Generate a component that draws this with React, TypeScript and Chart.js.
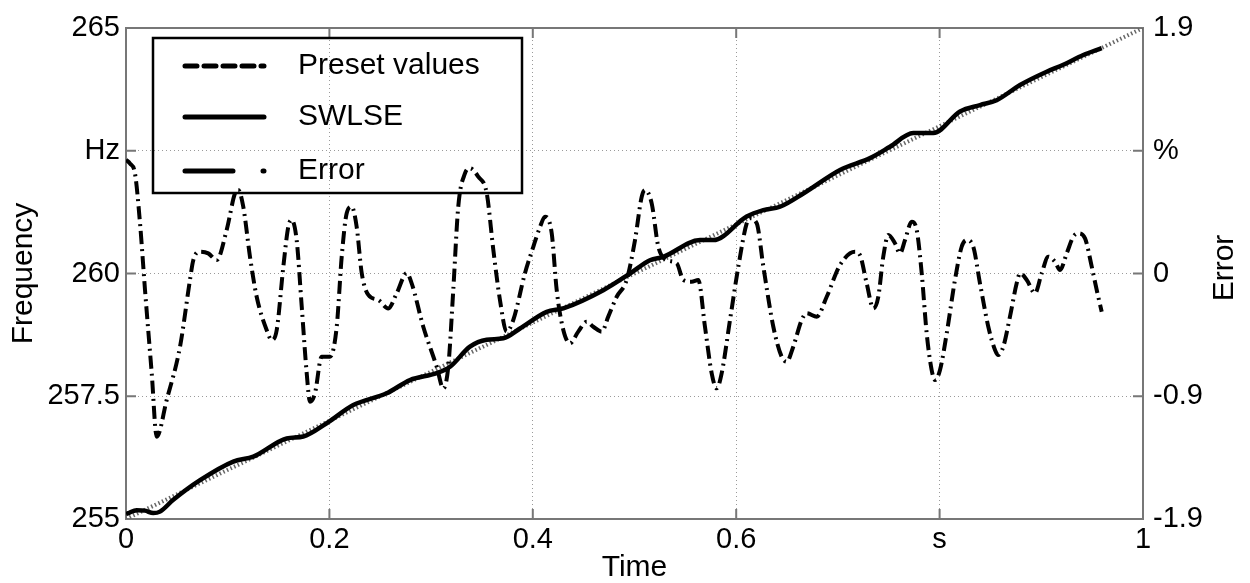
import React, { useEffect, useRef } from "react";
import { Chart, registerables } from "chart.js";

Chart.register(...registerables);

// Axis ticks and their printed labels
const timeTicks = [0, 0.2, 0.4, 0.6, 0.8, 1];
const timeTickLabels = ["0", "0.2", "0.4", "0.6", "s", "1"];
const freqTicks = [255, 257.5, 260, 262.5, 265];
const freqTickLabels = ["255", "257.5", "260", "Hz", "265"];
const errTicks = [-1.9, -0.95, 0, 0.95, 1.9];
const errTickLabels = ["-1.9", "-0.9", "0", "%", "1.9"];

// Preset frequency ramp
const presetTime = [0, 1];
const presetFreq = [255, 265];

// SWLSE frequency estimate
const swlseTime = [
  0.0, 0.0023, 0.0105, 0.0187, 0.0268, 0.0334, 0.0465, 0.0728, 0.1055, 0.1252,
  0.158, 0.1743, 0.1973, 0.2235, 0.2563, 0.2793, 0.3055, 0.3186, 0.3382, 0.3547,
  0.371, 0.3874, 0.4137, 0.43, 0.4693, 0.4956, 0.5152, 0.5283, 0.5644, 0.5775,
  0.6103, 0.6267, 0.6431, 0.666, 0.7021, 0.7316, 0.7512, 0.7741, 0.7938, 0.8201,
  0.8397, 0.8561, 0.8791, 0.9053, 0.9216, 0.9413, 0.9594,
];
const swlseFreq = [
  255.1, 255.12, 255.18, 255.17, 255.12, 255.15, 255.39, 255.79, 256.17, 256.27,
  256.64, 256.68, 256.95, 257.32, 257.56, 257.83, 257.97, 258.1, 258.51, 258.65,
  258.68, 258.88, 259.22, 259.29, 259.66, 260.0, 260.27, 260.34, 260.68, 260.68,
  261.16, 261.29, 261.36, 261.63, 262.11, 262.35, 262.58, 262.86, 262.86, 263.3,
  263.43, 263.53, 263.84, 264.11, 264.25, 264.45, 264.59,
];

// Relative error of the estimate, in percent
const errorTime = [
  0.0, 0.004, 0.0088, 0.0138, 0.0187, 0.0253, 0.0302, 0.04, 0.0531, 0.0629,
  0.0662, 0.0728, 0.0809, 0.0892, 0.099, 0.1072, 0.1104, 0.1153, 0.1219, 0.1285,
  0.1383, 0.1433, 0.1482, 0.1547, 0.1596, 0.1629, 0.1678, 0.1728, 0.1777, 0.1809,
  0.1858, 0.1924, 0.2006, 0.2072, 0.2121, 0.217, 0.2219, 0.2268, 0.2318, 0.2383,
  0.2481, 0.2579, 0.2662, 0.276, 0.2809, 0.2923, 0.3055, 0.312, 0.3169, 0.3218,
  0.3267, 0.3333, 0.3382, 0.3464, 0.3547, 0.3612, 0.3677, 0.3743, 0.3808, 0.3923,
  0.4005, 0.4071, 0.412, 0.4186, 0.4235, 0.43, 0.4366, 0.4447, 0.453, 0.4595,
  0.4678, 0.4742, 0.4825, 0.4923, 0.5005, 0.5071, 0.5103, 0.5169, 0.5234, 0.5317,
  0.5415, 0.548, 0.5562, 0.5627, 0.5693, 0.5759, 0.5808, 0.5857, 0.5939, 0.6021,
  0.6103, 0.6136, 0.6202, 0.6267, 0.6365, 0.6447, 0.6497, 0.6561, 0.6644, 0.6693,
  0.6792, 0.689, 0.7021, 0.7168, 0.7217, 0.7283, 0.7348, 0.7397, 0.7446, 0.7496,
  0.7561, 0.7611, 0.766, 0.7726, 0.7775, 0.7824, 0.7873, 0.7922, 0.7955, 0.8004,
  0.807, 0.8151, 0.8217, 0.8266, 0.8331, 0.8397, 0.8479, 0.8545, 0.8577, 0.8626,
  0.8692, 0.8758, 0.8791, 0.8857, 0.8938, 0.9004, 0.9069, 0.9135, 0.9184, 0.925,
  0.9315, 0.9364, 0.943, 0.9496, 0.9545, 0.9594,
];
const errorPct = [
  0.88, 0.85, 0.775, 0.388, -0.128, -0.773, -1.263, -0.979, -0.567, -0.05,
  0.104, 0.169, 0.156, 0.104, 0.337, 0.621, 0.646, 0.517, 0.13, -0.18,
  -0.437, -0.515, -0.437, 0.053, 0.362, 0.414, 0.259, -0.257, -0.773, -0.992,
  -0.927, -0.644, -0.644, -0.412, 0.13, 0.466, 0.517, 0.362, 0.002, -0.166,
  -0.205, -0.27, -0.153, 0.002, -0.076, -0.412, -0.721, -0.889, -0.721, -0.128,
  0.517, 0.775, 0.814, 0.749, 0.621, 0.182, -0.205, -0.45, -0.36, 0.002,
  0.207, 0.36, 0.439, 0.311, -0.128, -0.437, -0.54, -0.45, -0.373, -0.412,
  -0.45, -0.334, -0.18, -0.05, 0.259, 0.594, 0.646, 0.543, 0.207, 0.104,
  0.079, -0.05, -0.063, -0.05, -0.412, -0.773, -0.889, -0.773, -0.36, 0.053,
  0.388, 0.427, 0.388, 0.053, -0.412, -0.644, -0.683, -0.567, -0.36, -0.308,
  -0.334, -0.18, 0.066, 0.169, 0.143, -0.076, -0.27, -0.18, 0.13, 0.298,
  0.234, 0.156, 0.259, 0.401, 0.337, 0.002, -0.463, -0.747, -0.824, -0.747,
  -0.463, -0.05, 0.207, 0.259, 0.207, -0.076, -0.412, -0.592, -0.631, -0.567,
  -0.334, -0.076, 0.002, -0.05, -0.153, 0.002, 0.13, 0.091, 0.027, 0.156,
  0.285, 0.311, 0.272, 0.053, -0.128, -0.296,
];

const FONT = "'Liberation Sans', Arial, Helvetica, sans-serif";
const FRAME = "#777777";

const zip = (xs: number[], ys: number[]) => xs.map((x, i) => ({ x, y: ys[i] }));

// Legend rows: line sample style and caption
const legendRows = [
  { label: "Preset values", dash: [12, 7] },
  { label: "SWLSE", dash: [] as number[] },
  { label: "Error", dash: [48, 30, 1, 40] },
];

const framePlugin = {
  id: "matlabFrame",
  beforeDatasetsDraw(chart: any) {
    const { ctx, chartArea } = chart;
    const { left, right, top, bottom } = chartArea;
    const xs = chart.scales.x;
    const ys = chart.scales.y;
    ctx.save();
    ctx.strokeStyle = FRAME;
    ctx.lineWidth = 2;
    ctx.setLineDash([]);
    ctx.strokeRect(left, top, right - left, bottom - top);
    const tl = 10;
    ctx.beginPath();
    timeTicks.forEach((v) => {
      const px = xs.getPixelForValue(v);
      ctx.moveTo(px, bottom);
      ctx.lineTo(px, bottom - tl);
      ctx.moveTo(px, top);
      ctx.lineTo(px, top + tl);
    });
    freqTicks.forEach((v) => {
      const py = ys.getPixelForValue(v);
      ctx.moveTo(left, py);
      ctx.lineTo(left + tl, py);
      ctx.moveTo(right, py);
      ctx.lineTo(right - tl, py);
    });
    ctx.stroke();

    // Legend (transparent box, drawn beneath the curves)
    const bx = 153, by = 38, bw = 369, bh = 155;
    ctx.strokeStyle = "#000000";
    ctx.lineWidth = 2.5;
    ctx.strokeRect(bx, by, bw, bh);
    const rowY = [66, 117, 171];
    legendRows.forEach((row, i) => {
      ctx.beginPath();
      ctx.strokeStyle = "#000000";
      ctx.lineWidth = 5;
      ctx.lineCap = "round";
      ctx.setLineDash(row.dash);
      ctx.moveTo(185, rowY[i]);
      ctx.lineTo(264, rowY[i]);
      ctx.stroke();
      ctx.setLineDash([]);
      ctx.lineCap = "butt";
      ctx.fillStyle = "#000000";
      ctx.font = `30px ${FONT}`;
      ctx.textAlign = "left";
      ctx.textBaseline = "middle";
      ctx.fillText(row.label, 298, rowY[i]);
    });
    ctx.restore();
  },
  afterDraw(chart: any) {
    const { ctx } = chart;
    ctx.save();
    // Right axis title, reading bottom to top
    ctx.translate(1225, 268);
    ctx.rotate(-Math.PI / 2);
    ctx.fillStyle = "#000000";
    ctx.font = `30px ${FONT}`;
    ctx.textAlign = "center";
    ctx.textBaseline = "middle";
    ctx.fillText("Error", 0, 0);
    ctx.restore();
  },
};

export default function App() {
  const canvasRef = useRef<HTMLCanvasElement | null>(null);

  useEffect(() => {
    if (!canvasRef.current) return;
    const tickFont = { family: FONT, size: 29 };
    const gridCommon = {
      color: "#9a9a9a",
      lineWidth: 1,
      drawTicks: false,
    };
    const chart = new Chart(canvasRef.current, {
      type: "line",
      data: {
        datasets: [
          {
            label: "SWLSE",
            data: zip(swlseTime, swlseFreq),
            yAxisID: "y",
            borderColor: "#000000",
            borderWidth: 4.5,
            pointRadius: 0,
            cubicInterpolationMode: "monotone",
            fill: false,
          },
          {
            label: "Error",
            data: zip(errorTime, errorPct),
            yAxisID: "y2",
            borderColor: "#000000",
            borderWidth: 4,
            borderDash: [13, 5, 2, 5],
            pointRadius: 0,
            cubicInterpolationMode: "monotone",
            fill: false,
          },
          {
            label: "Preset values",
            data: zip(presetTime, presetFreq),
            yAxisID: "y",
            borderColor: "#666666",
            borderWidth: 4,
            borderDash: [1.5, 2.5],
            pointRadius: 0,
            fill: false,
          },
        ],
      },
      options: {
        animation: false,
        responsive: false,
        devicePixelRatio: 1,
        layout: { padding: { top: 28, left: 0, right: 0, bottom: 0 } },
        plugins: {
          legend: { display: false },
          tooltip: { enabled: false },
        },
        scales: {
          x: {
            type: "linear",
            position: "bottom",
            min: 0,
            max: 1,
            afterBuildTicks: (scale: any) => {
              scale.ticks = timeTicks.map((v) => ({ value: v }));
            },
            afterFit: (scale: any) => {
              scale.height = 64;
            },
            grid: gridCommon,
            border: { display: false, dash: [1, 3] },
            ticks: {
              autoSkip: false,
              maxRotation: 0,
              padding: 4,
              color: "#000000",
              font: tickFont,
              callback: (_v: any, i: number) => timeTickLabels[i],
            },
            title: {
              display: true,
              text: "Time",
              color: "#000000",
              font: { family: FONT, size: 30, lineHeight: 1 },
              padding: { top: 0, bottom: 0 },
            },
          },
          y: {
            type: "linear",
            position: "left",
            min: 255,
            max: 265,
            afterBuildTicks: (scale: any) => {
              scale.ticks = freqTicks.map((v) => ({ value: v }));
            },
            afterFit: (scale: any) => {
              scale.width = 126;
            },
            grid: gridCommon,
            border: { display: false, dash: [1, 3] },
            ticks: {
              autoSkip: false,
              padding: 6,
              color: "#000000",
              font: tickFont,
              callback: (_v: any, i: number) => freqTickLabels[i],
            },
            title: {
              display: true,
              text: "Frequency",
              color: "#000000",
              font: { family: FONT, size: 30, lineHeight: 1 },
              padding: { top: 9, bottom: 0 },
            },
          },
          y2: {
            type: "linear",
            position: "right",
            min: -1.9,
            max: 1.9,
            afterBuildTicks: (scale: any) => {
              scale.ticks = errTicks.map((v) => ({ value: v }));
            },
            afterFit: (scale: any) => {
              scale.width = 107;
            },
            grid: { display: false, drawTicks: false },
            border: { display: false },
            ticks: {
              autoSkip: false,
              padding: 10,
              color: "#000000",
              font: tickFont,
              callback: (_v: any, i: number) => errTickLabels[i],
            },
          },
        },
      },
      plugins: [framePlugin],
    } as any);
    return () => chart.destroy();
  }, []);

  return (
    <div
      style={{
        position: "absolute",
        left: 0,
        top: 0,
        width: 1250,
        height: 583,
        background: "#ffffff",
      }}
    >
      <canvas ref={canvasRef} width={1250} height={583} style={{ display: "block" }} />
    </div>
  );
}
